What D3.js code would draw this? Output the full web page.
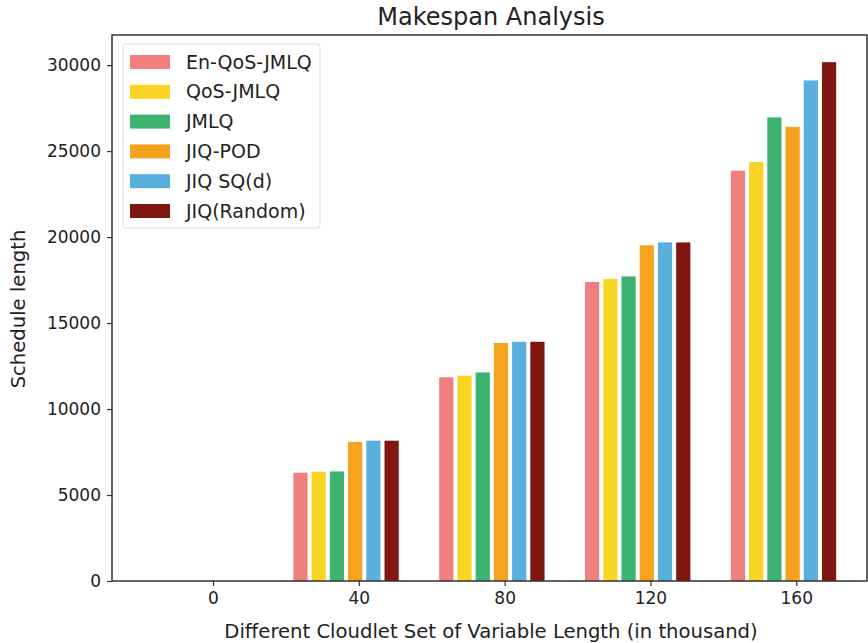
<!DOCTYPE html>
<html>
<head>
<meta charset="utf-8">
<script src="https://cdn.jsdelivr.net/npm/d3@7"></script>
<style>
  html, body { margin: 0; padding: 0; background: #fff; }
  svg { display: block; font-family: "DejaVu Sans", sans-serif; }
</style>
</head>
<body>
<svg id="chart" width="868" height="643"></svg>
<script>
// Cloudlet set sizes (in thousand)
const categories = [0, 40, 80, 120, 160];
const seriesNames = ["En-QoS-JMLQ", "QoS-JMLQ", "JMLQ", "JIQ-POD", "JIQ SQ(d)", "JIQ(Random)"];
const seriesColors = ["#f08080", "#f9d423", "#3cb371", "#f5a21e", "#5ab0dc", "#7f1610"];

// Schedule length per algorithm, one value per cloudlet set
const enQosJmlq = [0, 6300, 11850, 17390, 23860];
const qosJmlq   = [0, 6360, 11940, 17560, 24360];
const jmlq      = [0, 6370, 12130, 17710, 26960];
const jiqPod    = [0, 8090, 13840, 19520, 26410];
const jiqSqd    = [0, 8160, 13910, 19690, 29110];
const jiqRandom = [0, 8160, 13910, 19690, 30170];
const seriesValues = [enQosJmlq, qosJmlq, jmlq, jiqPod, jiqSqd, jiqRandom];

const xTicks = [0, 40, 80, 120, 160];
const yTicks = [0, 5000, 10000, 15000, 20000, 25000, 30000];

// Bar offsets from each category position (data units)
const barOffsets = [-16, -11, -6, -1, 4, 9];
const barWidth = 3.9;

const svg = d3.select("#chart");
const plot = { left: 112, right: 867, top: 35, bottom: 581 };

const x = d3.scaleLinear().domain([-27.7, 179.4]).range([plot.left, plot.right]);
const y = d3.scaleLinear().domain([0, 31750]).range([plot.bottom, plot.top]);

// Bars
const bars = [];
seriesValues.forEach((vals, s) => {
  vals.forEach((v, i) => {
    bars.push({ s, cat: categories[i], v });
  });
});
svg.append("g").selectAll("rect").data(bars.filter(d => d.v > 0)).join("rect")
  .attr("x", d => x(d.cat + barOffsets[d.s] - barWidth / 2))
  .attr("width", d => x(barWidth) - x(0))
  .attr("y", d => y(d.v))
  .attr("height", d => y(0) - y(d.v))
  .attr("fill", d => seriesColors[d.s]);

// Axes
const tickFont = 17;
const labelFont = 19.6;
const legendFont = 19;
const xAxis = svg.append("g").attr("transform", `translate(0,${plot.bottom})`)
  .call(d3.axisBottom(x).tickValues(xTicks).tickSize(5).tickPadding(6).tickFormat(d3.format("d")));
const yAxis = svg.append("g").attr("transform", `translate(${plot.left},0)`)
  .call(d3.axisLeft(y).tickValues(yTicks).tickSize(5).tickPadding(6).tickFormat(d3.format("d")));
[xAxis, yAxis].forEach(a => {
  a.select(".domain").remove();
  a.selectAll("line").attr("stroke", "#333").attr("stroke-width", 1.2);
  a.selectAll("text").attr("fill", "#222").style("font-size", tickFont + "px")
    .style("font-family", "DejaVu Sans, sans-serif");
});

// Frame
svg.append("rect")
  .attr("x", plot.left).attr("y", plot.top)
  .attr("width", plot.right - plot.left).attr("height", plot.bottom - plot.top)
  .attr("fill", "none").attr("stroke", "#333").attr("stroke-width", 1.5);

// Titles
svg.append("text").attr("x", 491).attr("y", 25).attr("text-anchor", "middle")
  .style("font-size", "24px").attr("fill", "#222").text("Makespan Analysis");
svg.append("text").attr("x", 491).attr("y", 638).attr("text-anchor", "middle")
  .style("font-size", labelFont + "px").attr("fill", "#222")
  .text("Different Cloudlet Set of Variable Length (in thousand)");
svg.append("text").attr("transform", "translate(25,309) rotate(-90)").attr("text-anchor", "middle")
  .style("font-size", labelFont + "px").attr("fill", "#222").text("Schedule length");

// Legend
const legend = svg.append("g");
legend.append("rect").attr("x", 123).attr("y", 44).attr("width", 197).attr("height", 184)
  .attr("rx", 3).attr("fill", "#fff").attr("fill-opacity", 0.85)
  .attr("stroke", "#ddd").attr("stroke-width", 1);
seriesNames.forEach((name, i) => {
  const cy = 62 + i * 29.8;
  legend.append("rect").attr("x", 130).attr("y", cy - 7).attr("width", 40).attr("height", 14)
    .attr("fill", seriesColors[i]);
  legend.append("text").attr("x", 186).attr("y", cy).attr("dy", "0.35em")
    .style("font-size", legendFont + "px").attr("fill", "#222").text(name);
});
</script>
</body>
</html>
